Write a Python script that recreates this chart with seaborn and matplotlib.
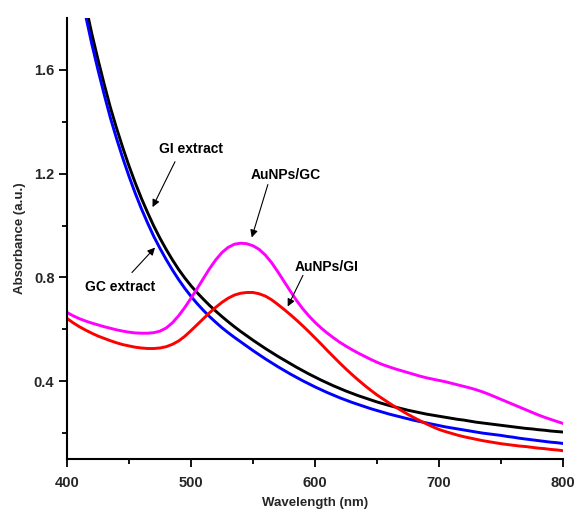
import numpy as np
import pandas as pd
import matplotlib
matplotlib.use("Agg")
import matplotlib.pyplot as plt
import seaborn as sns

# UV-Vis absorbance spectra, sampled every 5 nm from 400 to 800 nm
wavelength = list(range(400, 801, 5))

gi_extract = [2.25, 2.10, 1.97, 1.85, 1.74, 1.64, 1.545, 1.455, 1.375, 1.30,
              1.23, 1.165, 1.105, 1.05, 0.998, 0.951, 0.908, 0.868, 0.831, 0.798,
              0.768, 0.741, 0.716, 0.692, 0.67, 0.649, 0.629, 0.61, 0.592, 0.575,
              0.558, 0.542, 0.526, 0.511, 0.496, 0.482, 0.468, 0.454, 0.441, 0.428,
              0.416, 0.404, 0.393, 0.382, 0.372, 0.362, 0.353, 0.344, 0.336, 0.328,
              0.32, 0.313, 0.306, 0.30, 0.294, 0.288, 0.283, 0.278, 0.273, 0.269,
              0.265, 0.261, 0.257, 0.253, 0.25, 0.246, 0.242, 0.239, 0.236, 0.233,
              0.23, 0.227, 0.224, 0.221, 0.218, 0.216, 0.213, 0.211, 0.208, 0.206,
              0.204]

gc_extract = [2.20, 2.06, 1.93, 1.81, 1.70, 1.60, 1.505, 1.415, 1.335, 1.26,
              1.19, 1.125, 1.065, 1.01, 0.958, 0.912, 0.869, 0.829, 0.792, 0.758,
              0.727, 0.699, 0.673, 0.649, 0.627, 0.606, 0.587, 0.569, 0.552, 0.535,
              0.518, 0.502, 0.486, 0.471, 0.456, 0.442, 0.428, 0.415, 0.402, 0.39,
              0.378, 0.367, 0.356, 0.346, 0.336, 0.327, 0.318, 0.31, 0.302, 0.294,
              0.287, 0.28, 0.273, 0.267, 0.261, 0.255, 0.249, 0.244, 0.239, 0.234,
              0.229, 0.224, 0.22, 0.216, 0.212, 0.208, 0.204, 0.20, 0.197, 0.194,
              0.191, 0.187, 0.184, 0.18, 0.177, 0.174, 0.171, 0.168, 0.165, 0.163,
              0.16]

aunps_gc = [0.665, 0.652, 0.641, 0.632, 0.624, 0.617, 0.61, 0.604, 0.598, 0.593,
            0.589, 0.586, 0.585, 0.585, 0.587, 0.593, 0.605, 0.625, 0.652, 0.684,
            0.72, 0.757, 0.796, 0.834, 0.868, 0.896, 0.916, 0.928, 0.932, 0.93,
            0.922, 0.908, 0.886, 0.857, 0.822, 0.785, 0.748, 0.712, 0.68, 0.652,
            0.627, 0.605, 0.585, 0.567, 0.55, 0.535, 0.521, 0.508, 0.496, 0.484,
            0.473, 0.463, 0.455, 0.447, 0.44, 0.433, 0.426, 0.419, 0.413, 0.408,
            0.403, 0.398, 0.392, 0.386, 0.38, 0.374, 0.367, 0.359, 0.35, 0.34,
            0.33, 0.32, 0.31, 0.30, 0.29, 0.28, 0.27, 0.261, 0.253, 0.245,
            0.237]

aunps_gi = [0.642, 0.625, 0.61, 0.597, 0.585, 0.574, 0.565, 0.556, 0.548, 0.541,
            0.536, 0.531, 0.528, 0.526, 0.526, 0.528, 0.533, 0.542, 0.555, 0.573,
            0.595, 0.618, 0.641, 0.664, 0.685, 0.704, 0.72, 0.732, 0.739, 0.742,
            0.742, 0.737, 0.728, 0.714, 0.696, 0.677, 0.657, 0.636, 0.614, 0.591,
            0.567, 0.543, 0.518, 0.494, 0.47, 0.447, 0.425, 0.404, 0.384, 0.365,
            0.347, 0.331, 0.315, 0.30, 0.286, 0.272, 0.259, 0.247, 0.235, 0.224,
            0.214, 0.206, 0.199, 0.192, 0.186, 0.181, 0.176, 0.171, 0.167, 0.163,
            0.159, 0.156, 0.153, 0.15, 0.148, 0.145, 0.142, 0.14, 0.137, 0.135,
            0.132]

series_names = ["GI extract", "GC extract", "AuNPs/GC", "AuNPs/GI"]
series_colors = ["#000000", "#0000ff", "#ff00ff", "#ff0000"]

frames = []
for name, vals in zip(series_names, [gi_extract, gc_extract, aunps_gc, aunps_gi]):
    frames.append(pd.DataFrame({"Wavelength": wavelength, "Absorbance": vals, "Sample": name}))
df = pd.concat(frames, ignore_index=True)

sns.set_style("ticks")
plt.rcParams["font.family"] = ["Liberation Sans", "DejaVu Sans"]
plt.rcParams["font.weight"] = "bold"

fig = plt.figure(figsize=(5.76, 5.09), dpi=100, facecolor="white")
ax = fig.add_axes([0.1163, 0.0982, 0.8611, 0.8664])

sns.lineplot(data=df, x="Wavelength", y="Absorbance", hue="Sample",
             hue_order=series_names, palette=series_colors, linewidth=2.1,
             legend=False, ax=ax)

ax.set_xlim(400, 800)
ax.set_ylim(0.1, 1.8)
ax.set_xticks([400, 500, 600, 700, 800])
ax.set_xticks([450, 550, 650, 750], minor=True)
ax.set_yticks([0.4, 0.8, 1.2, 1.6])
ax.set_yticks([0.2, 0.6, 1.0, 1.4], minor=True)
ax.set_xticklabels(["400", "500", "600", "700", "800"], fontsize=10.5, fontweight="bold")
ax.set_yticklabels(["0.4", "0.8", "1.2", "1.6"], fontsize=10.5, fontweight="bold")

ax.tick_params(axis="both", which="major", direction="out", length=6, width=1.3, color="black")
ax.tick_params(axis="both", which="minor", direction="out", length=3.5, width=1.3, color="black")
ax.tick_params(axis="x", which="major", pad=6)
ax.tick_params(axis="y", which="major", pad=3)

for side in ["top", "right"]:
    ax.spines[side].set_visible(False)
for side in ["left", "bottom"]:
    ax.spines[side].set_linewidth(1.5)
    ax.spines[side].set_color("black")

ax.set_xlabel("Wavelength (nm)", fontsize=9.5, fontweight="bold", labelpad=5)
ax.set_ylabel("Absorbance (a.u.)", fontsize=9.5, fontweight="bold", labelpad=6)

# Curve labels with pointer arrows
labels = [
    ("GI extract", (500, 1.296), (487.1, 1.246), (469.0, 1.071)),
    ("GC extract", (442.7, 0.762), (452.4, 0.819), (471.0, 0.915)),
    ("AuNPs/GC", (576.6, 1.196), (562.0, 1.158), (549.0, 0.954)),
    ("AuNPs/GI", (609.7, 0.842), (590.3, 0.808), (578.0, 0.688)),
]
for text, text_xy, tail, head in labels:
    ax.text(text_xy[0], text_xy[1], text, ha="center", va="center",
            fontsize=10, fontweight="bold", color="black")
    ax.annotate("", xy=head, xytext=tail,
                arrowprops=dict(arrowstyle="-|>", color="black", lw=0.8,
                                mutation_scale=11, shrinkA=0, shrinkB=0))

fig.savefig("out.png", dpi=100, facecolor=fig.get_facecolor())
